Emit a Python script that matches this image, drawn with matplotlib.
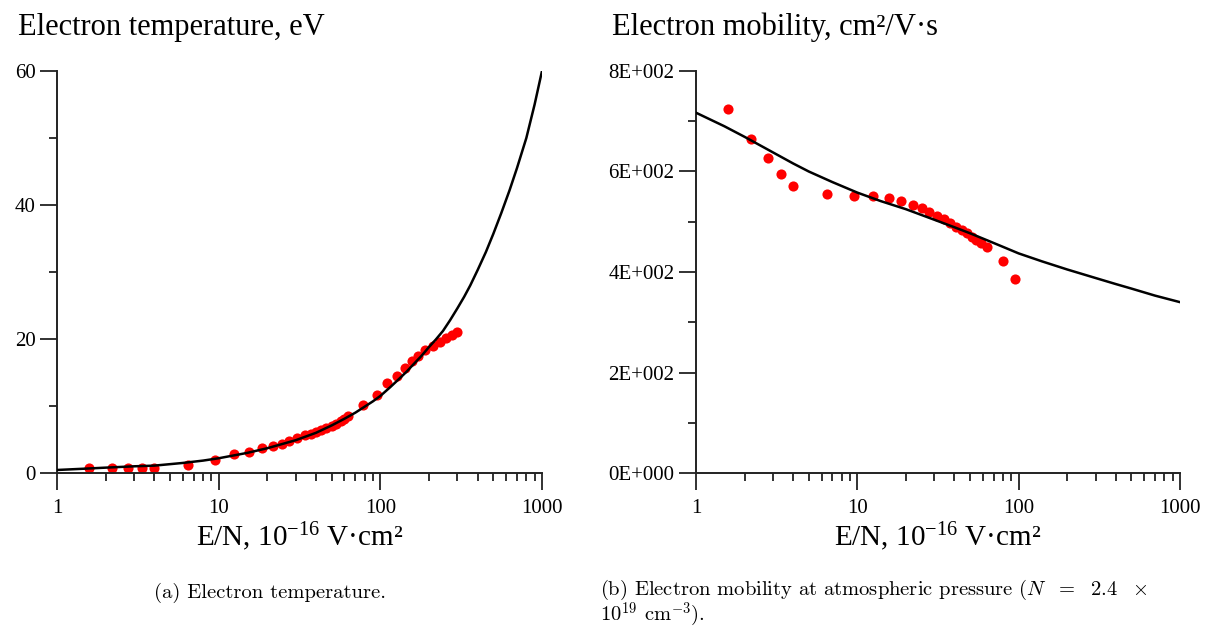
import matplotlib.pyplot as plt
from matplotlib.ticker import FixedLocator, LogLocator, NullFormatter

plt.rcParams['font.family'] = ['Liberation Serif', 'DejaVu Serif']
plt.rcParams['mathtext.fontset'] = 'custom'
plt.rcParams['mathtext.rm'] = 'Liberation Serif'
plt.rcParams['mathtext.it'] = 'Liberation Serif:italic'

# (a) electron temperature: measured points and model curve
temp_x = [1.58, 2.18, 2.76, 3.34, 4.0, 6.5, 9.5, 12.5, 15.5, 18.5, 21.7, 24.6, 27.4, 30.5,
          34.2, 37, 40, 43, 46, 50, 53, 57, 60, 63, 78.4, 95, 110, 126, 142, 156, 172,
          189, 212, 233, 256, 277, 296]
temp_y = [0.7, 0.7, 0.7, 0.7, 0.8, 1.2, 2.0, 2.8, 3.2, 3.7, 4.1, 4.4, 4.8, 5.2,
          5.6, 5.8, 6.1, 6.4, 6.7, 7.0, 7.3, 7.7, 8.1, 8.5, 10.2, 11.7, 13.4, 14.5, 15.7, 16.7, 17.5,
          18.3, 18.9, 19.6, 20.1, 20.6, 21.0]
temp_fit_x = [1, 1.5, 2, 3, 4, 6, 8, 10, 15, 20, 30, 40, 50, 60, 70, 80, 90, 100, 115, 130,
              145, 160, 180, 200, 220, 244, 270, 300, 330, 360, 400, 450, 500, 560, 630,
              700, 800, 900, 1000]
temp_fit_y = [0.45, 0.65, 0.8, 1.0, 1.1, 1.5, 1.85, 2.2, 3.0, 3.7, 4.9, 6.0, 7.1, 8.1, 9.0,
              9.9, 10.7, 11.5, 12.8, 14.0, 15.1, 16.2, 17.5, 18.8, 19.9, 21.2, 22.8, 24.6, 26.3,
              28.0, 30.3, 33.0, 35.7, 38.8, 42.2, 45.5, 50.0, 55.0, 60.0]

# (b) electron mobility
mob_x = [1.59, 2.18, 2.78, 3.35, 4.0, 6.5, 9.5, 12.5, 15.7, 18.7, 22.0, 25.1, 28.0, 31.3,
         34.5, 37.6, 40.9, 44.4, 47.8, 51.4, 54.6, 58.4, 63.2, 80.0, 95.5]
mob_y = [724, 664, 626, 596, 572, 555, 551, 551, 548, 541, 533, 527, 519, 511,
         505, 497, 490, 484, 477, 470, 464, 458, 449, 422, 387]
mob_fit_x = [1, 1.5, 2, 3, 4, 5, 7, 10, 14, 20, 30, 40, 50, 65, 80, 100, 140, 200, 300,
             400, 500, 700, 1000]
mob_fit_y = [717, 690, 669, 638, 616, 600, 579, 558, 541, 525, 504, 489, 477, 462, 450, 437,
             421, 405, 388, 376, 367, 353, 340]

temp_ticks = [0, 20, 40, 60]
mob_ticks = [0, 200, 400, 600, 800]
mob_tick_labels = ['0E+000', '2E+002', '4E+002', '6E+002', '8E+002']
x_ticks = [1, 10, 100, 1000]
x_tick_labels = ['1', '10', '100', '1000']

fig = plt.figure(figsize=(12.07, 6.28), dpi=100)
ax1 = fig.add_axes([57 / 1207, 155 / 628, 485 / 1207, 402 / 628])
ax2 = fig.add_axes([696 / 1207, 155 / 628, 484 / 1207, 402 / 628])


def style(ax):
    ax.set_xscale('log')
    ax.set_xlim(1, 1000)
    ax.set_xticks(x_ticks)
    ax.set_xticklabels(x_tick_labels)
    ax.xaxis.set_minor_locator(LogLocator(base=10, subs=range(2, 10)))
    ax.xaxis.set_minor_formatter(NullFormatter())
    for s in ['top', 'right']:
        ax.spines[s].set_visible(False)
    for s in ['left', 'bottom']:
        ax.spines[s].set_linewidth(1.4)
        ax.spines[s].set_color('#222222')
    ax.tick_params(which='major', direction='out', length=12.5, width=1.3,
                   labelsize=15, color='#222222')
    ax.tick_params(axis='x', which='major', pad=6)
    ax.tick_params(axis='y', which='major', pad=3)
    ax.tick_params(which='minor', direction='out', length=6, width=1.3, color='#222222')
    ax.set_xlabel('E/N, 10$^{\\mathrm{-16}}$ V·cm²', fontsize=21, labelpad=2)


style(ax1)
ax1.plot(temp_fit_x, temp_fit_y, color='black', lw=1.8, zorder=3)
ax1.plot(temp_x, temp_y, 'o', color='#ff0000', ms=7.3, mec='none', zorder=2)
ax1.set_ylim(0, 60)
ax1.set_yticks(temp_ticks)
ax1.yaxis.set_minor_locator(FixedLocator([10, 30, 50]))

style(ax2)
ax2.plot(mob_fit_x, mob_fit_y, color='black', lw=1.8, zorder=3)
ax2.plot(mob_x, mob_y, 'o', color='#ff0000', ms=7.3, mec='none', zorder=2)
ax2.set_ylim(0, 800)
ax2.set_yticks(mob_ticks)
ax2.set_yticklabels(mob_tick_labels)
ax2.yaxis.set_minor_locator(FixedLocator([100, 300, 500, 700]))

fig.text(18 / 1207, 1 - 27 / 628, 'Electron temperature, eV', fontsize=22, va='center')
fig.text(612 / 1207, 1 - 27 / 628, 'Electron mobility, cm²/V·s', fontsize=22, va='center')

# captions in Computer Modern
cap = dict(family='cmr10', fontsize=14.8, math_fontfamily='cm')
fig.text(270 / 1207, 1 - 598 / 628, '(a) Electron temperature.', ha='center',
         va='baseline', **cap)
fig.text(600 / 1207, 1 - 578 / 628,
         '(b) Electron mobility at atmospheric pressure ($N\\ \\ =\\ \\ 2.4\\ \\ \\times$\n'
         '10$^{19}$ cm$^{-3}$).',
         ha='left', va='top', multialignment='left', linespacing=0.95, **cap)

fig.savefig('out.png', dpi=100)
